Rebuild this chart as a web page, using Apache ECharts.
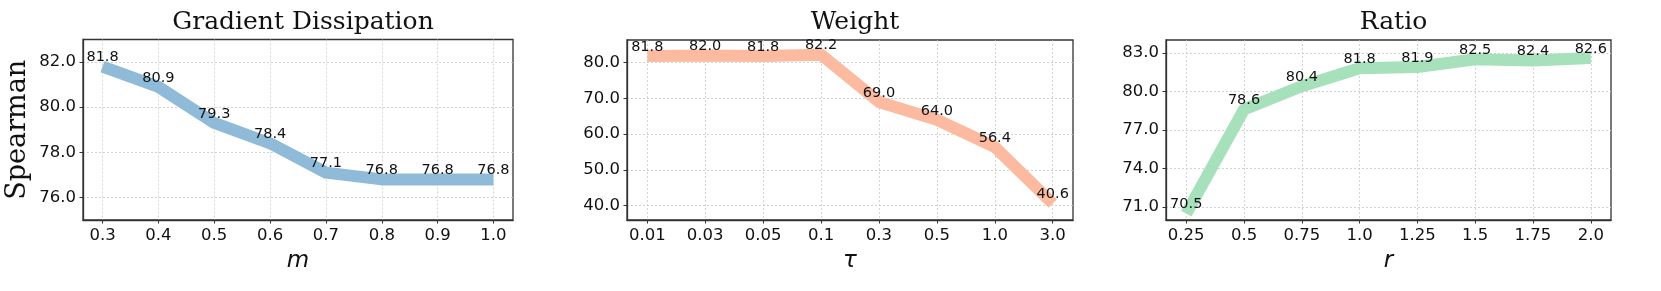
<!DOCTYPE html>
<html>
<head>
<meta charset="utf-8">
<script src="https://cdn.jsdelivr.net/npm/echarts@6/dist/echarts.min.js"></script>
<style>
html,body{margin:0;padding:0;background:#fff;}
#c{width:1661px;height:291px;}
</style>
</head>
<body>
<div id="c"></div>
<script>
// ---- data ----
const titles = ['Gradient Dissipation', 'Weight', 'Ratio'];
const xNames = ['m', 'τ', 'r'];
const mLabels = ['0.3', '0.4', '0.5', '0.6', '0.7', '0.8', '0.9', '1.0'];
const tauLabels = ['0.01', '0.03', '0.05', '0.1', '0.3', '0.5', '1.0', '3.0'];
const rLabels = ['0.25', '0.5', '0.75', '1.0', '1.25', '1.5', '1.75', '2.0'];
const gradValues = [81.8, 80.9, 79.3, 78.4, 77.1, 76.8, 76.8, 76.8];
const weightValues = [81.8, 82.0, 81.8, 82.2, 69.0, 64.0, 56.4, 40.6];
const ratioValues = [70.5, 78.6, 80.4, 81.8, 81.9, 82.5, 82.4, 82.6];
const gradYTicks = [76, 78, 80, 82];
const weightYTicks = [40, 50, 60, 70, 80];
const ratioYTicks = [71, 74, 77, 80, 83];
const yRanges = [[75, 83], [36, 86.3], [70, 84]];

// ---- layout / style ----
const grids = [
  {left: 83, top: 39.5, width: 430, height: 180.5},
  {left: 627, top: 40, width: 446, height: 180},
  {left: 1166, top: 40, width: 445, height: 180}
];
const colors = ['#8fbbd9', '#fcbba1', '#a6e1bb'];
const xLabelSets = [mLabels, tauLabels, rLabels];
const valueSets = [gradValues, weightValues, ratioValues];
const yTickSets = [gradYTicks, weightYTicks, ratioYTicks];

const chart = echarts.init(document.getElementById('c'), null, {renderer: 'canvas'});
const idx = mLabels.map((_, i) => i);
const gridLine = {show: true, lineStyle: {color: '#c8c8c8', type: [2, 2], width: 0.8}};

const option = {
  animation: false,
  backgroundColor: '#fff',
  title: titles.map((t, i) => ({
    text: t,
    left: grids[i].left + grids[i].width / 2,
    textAlign: 'center',
    top: 5,
    textStyle: {fontFamily: 'DejaVu Serif', fontSize: 25, fontWeight: 'normal', color: '#111'}
  })),
  grid: grids.map(g => Object.assign({show: true, borderColor: '#333', borderWidth: 1.3, backgroundColor: 'transparent'}, g)),
  xAxis: xLabelSets.map((labs, i) => ({
    type: 'value', gridIndex: i, min: -0.35, max: 7.35,
    name: xNames[i], nameLocation: 'middle', nameGap: 30,
    nameTextStyle: {fontFamily: 'DejaVu Sans', fontStyle: 'italic', fontSize: 23, color: '#111'},
    axisLine: {show: true, onZero: false, lineStyle: {color: '#333', width: 1.3}},
    axisTick: {show: true, length: 3.5, lineStyle: {color: '#333'}, customValues: idx},
    axisLabel: {customValues: idx, margin: 7, fontFamily: 'DejaVu Sans', fontSize: 16.5, color: '#111',
      formatter: v => labs[Math.round(v)]},
    splitLine: gridLine
  })),
  yAxis: yTickSets.map((ticks, i) => ({
    type: 'value', gridIndex: i, min: yRanges[i][0], max: yRanges[i][1],
    name: i === 0 ? 'Spearman' : '', nameLocation: 'middle', nameGap: 52,
    nameTextStyle: {fontFamily: 'DejaVu Serif', fontSize: 27, color: '#111'},
    axisLine: {show: true, onZero: false, lineStyle: {color: '#333', width: 1.3}},
    axisTick: {show: true, length: 3.5, lineStyle: {color: '#333'}, customValues: ticks},
    axisLabel: {customValues: ticks, margin: 7, fontFamily: 'DejaVu Sans', fontSize: 16.5, color: '#111',
      formatter: v => v.toFixed(1)},
    splitLine: gridLine
  })),
  series: valueSets.map((vals, i) => ({
    type: 'line', xAxisIndex: i, yAxisIndex: i,
    data: vals.map((v, j) => {
      const item = {value: [j, v]};
      if (j === 0) item.label = {offset: [5, 0]};
      if (j === vals.length - 1) item.label = {offset: [-5.5, 0]};
      return item;
    }),
    symbol: 'circle', symbolSize: 1, showSymbol: true,
    itemStyle: {color: 'rgba(0,0,0,0)'},
    lineStyle: {color: colors[i], width: 12, cap: 'butt', join: 'round'},
    label: {show: true, position: 'top', distance: 1, fontFamily: 'DejaVu Sans', fontSize: 14.5, color: '#111',
      formatter: p => p.value[1].toFixed(1)},
    labelLayout: {hideOverlap: false},
    clip: true, z: 3
  }))
};
chart.setOption(option);
</script>
</body>
</html>
